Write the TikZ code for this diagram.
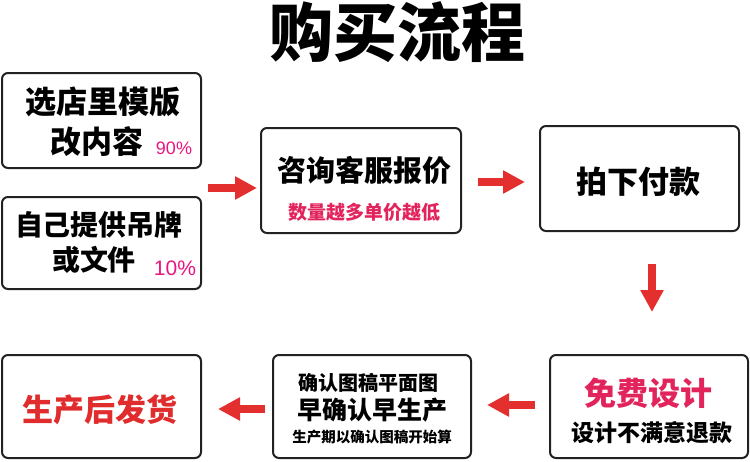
\documentclass[tikz,border=0pt]{standalone}
\usepackage{fontspec}
\newfontfamily\cjk{Noto Sans CJK SC}
\newfontfamily\cjkblack{Noto Sans CJK SC Black}
\newfontfamily\latinf{Liberation Sans}
\usetikzlibrary{arrows.meta}
\definecolor{arrowred}{HTML}{E3302F}
\definecolor{pinkpct}{HTML}{E8167F}
\definecolor{crimson}{HTML}{E2245C}
\definecolor{shipred}{HTML}{E02C2C}
\definecolor{boxline}{HTML}{222222}
\tikzset{
  box/.style={draw=boxline, line width=2pt, rounded corners=6pt, inner sep=0pt},
  lbl/.style={inner sep=0pt, font=\cjk\bfseries},
  pct/.style={inner sep=0pt, text=pinkpct, font=\latinf},
  blockarrow/.style={draw=arrowred, line width=8pt, -{Triangle[width=22pt,length=22pt]}, fill=arrowred},
}
\newcommand{\fs}[1]{\fontsize{#1}{#1}\selectfont}
\begin{document}
\begin{tikzpicture}[x=1pt,y=-1pt]
\useasboundingbox (0,0) rectangle (750,461);
% title
\node[inner sep=0pt, font=\cjkblack] (title) at (397,32) {\fs{64}购买流程};
% boxes
\node[box, minimum width=199pt, minimum height=95pt] (b1) at (101.5,120.5) {};
\node[box, minimum width=199pt, minimum height=92pt] (b2) at (101.5,243) {};
\node[box, minimum width=200pt, minimum height=105pt] (b3) at (361,180.5) {};
\node[box, minimum width=199pt, minimum height=105pt] (b4) at (639.5,178.5) {};
\node[box, minimum width=198pt, minimum height=103pt] (b5) at (649,406.5) {};
\node[box, minimum width=198pt, minimum height=103pt] (b6) at (372,406.5) {};
\node[box, minimum width=199pt, minimum height=103pt] (b7) at (101.5,406.5) {};
% texts
\node[lbl] (t1a) at (103,102) {\fs{31}选店里模版};
\node[lbl] (t1b) at (97,142) {\fs{31}改内容};
\node[pct] (p1) at (174,148) {\fs{18}90\%};
\node[lbl] (t2a) at (99,225) {\fs{28}自己提供吊牌};
\node[lbl] (t2b) at (94,260) {\fs{28}或文件};
\node[pct] (p2) at (175,268) {\fs{21}10\%};
\node[lbl] (t3a) at (364,170) {\fs{29}咨询客服报价};
\node[lbl, text=crimson] (t3b) at (364,212) {\fs{19}数量越多单价越低};
\node[lbl] (t4) at (638,182) {\fs{31}拍下付款};
\node[lbl, text=crimson] (t5a) at (648,393) {\fs{32}免费设计};
\node[lbl] (t5b) at (652,433) {\fs{23}设计不满意退款};
\node[lbl] (t6a) at (368,383) {\fs{20}确认图稿平面图};
\node[lbl] (t6b) at (372,410) {\fs{25}早确认早生产};
\node[lbl] (t6c) at (372,437) {\fs{14.5}生产期以确认图稿开始算};
\node[lbl, text=shipred] (t7) at (100,410) {\fs{31}生产后发货};
% arrow anchors
\coordinate (a1s) at (208,188); \coordinate (a1e) at (257,188);
\coordinate (a2s) at (478,182); \coordinate (a2e) at (525,182);
\coordinate (a3s) at (652,264); \coordinate (a3e) at (652,312);
\coordinate (a4s) at (535,405); \coordinate (a4e) at (487,405);
\coordinate (a5s) at (265,409); \coordinate (a5e) at (218,409);
\draw[blockarrow] (a1s) -- (a1e);
\draw[blockarrow] (a2s) -- (a2e);
\draw[blockarrow] (a3s) -- (a3e);
\draw[blockarrow] (a4s) -- (a4e);
\draw[blockarrow] (a5s) -- (a5e);
\end{tikzpicture}
\end{document}
